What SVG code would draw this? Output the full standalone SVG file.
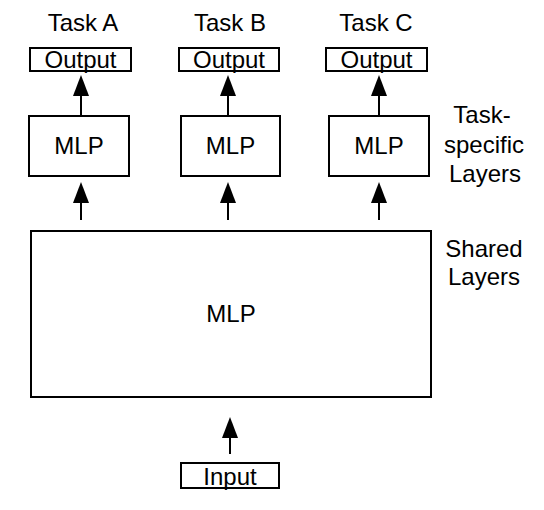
<svg xmlns="http://www.w3.org/2000/svg" width="544" height="510" viewBox="0 0 544 510">
<style>
.box{fill:#fff;stroke:#000;stroke-width:2}
.t{font-family:"Liberation Sans",Arial,Helvetica,sans-serif;font-size:24px;fill:#000;text-anchor:middle}
.c{stroke:#000;stroke-width:2;fill:none;marker-end:url(#ah)}
</style>
<defs>
<marker id="ah" markerUnits="userSpaceOnUse" markerWidth="22" markerHeight="16" refX="0" refY="8" orient="auto" viewBox="0 0 22 16">
<path d="M0,0 L21,8 L0,16 z" fill="#000"/>
</marker>
</defs>
<rect width="544" height="510" fill="#fff"/>
<g id="labels">
<text class="t" x="83" y="31">Task A</text>
<text class="t" x="230" y="31">Task B</text>
<text class="t" x="376" y="31">Task C</text>
<text class="t" x="482" y="123">Task-</text>
<text class="t" x="484" y="153">specific</text>
<text class="t" x="485" y="182">Layers</text>
<text class="t" x="484" y="257">Shared</text>
<text class="t" x="484" y="285">Layers</text>
</g>
<g id="outA"><rect class="box" x="30" y="48" width="101" height="23"/><text class="t" x="80.5" y="68">Output</text></g>
<g id="outB"><rect class="box" x="179" y="48" width="100" height="23"/><text class="t" x="229" y="68">Output</text></g>
<g id="outC"><rect class="box" x="326" y="48" width="101" height="23"/><text class="t" x="376.5" y="68">Output</text></g>
<g id="mlpA"><rect class="box" x="29" y="116" width="100" height="60"/><text class="t" x="79" y="154">MLP</text></g>
<g id="mlpB"><rect class="box" x="181" y="116" width="99" height="60"/><text class="t" x="230.5" y="154">MLP</text></g>
<g id="mlpC"><rect class="box" x="329" y="116" width="100" height="60"/><text class="t" x="379" y="154">MLP</text></g>
<g id="shared"><rect class="box" x="31" y="231" width="400" height="166"/><text class="t" x="231" y="322">MLP</text></g>
<g id="input"><rect class="box" x="181" y="463" width="98" height="25"/><text class="t" x="230" y="485">Input</text></g>
<g id="connectors">
<line class="c" x1="81" y1="115" x2="81" y2="96"/>
<line class="c" x1="228" y1="115" x2="228" y2="96"/>
<line class="c" x1="379" y1="115" x2="379" y2="96"/>
<line class="c" x1="81" y1="220" x2="81" y2="203"/>
<line class="c" x1="228" y1="220" x2="228" y2="203"/>
<line class="c" x1="379" y1="220" x2="379" y2="203"/>
<line class="c" x1="230" y1="454" x2="230" y2="438"/>
</g>
</svg>
